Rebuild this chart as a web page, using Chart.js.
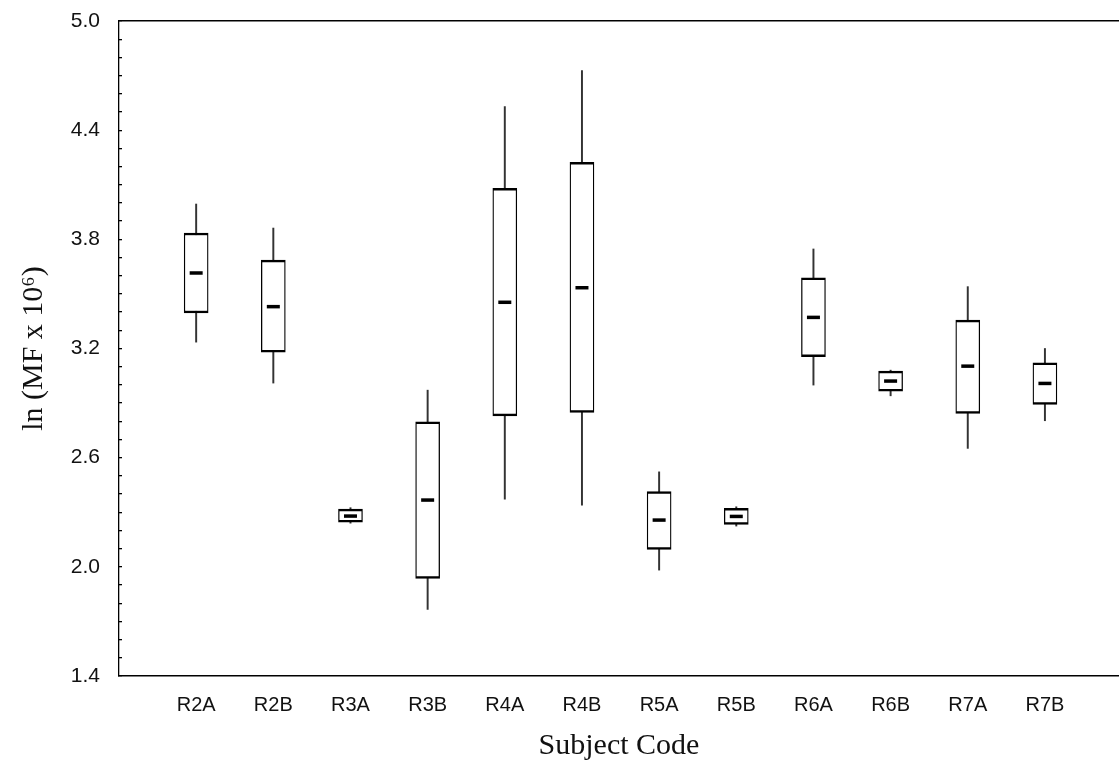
<!DOCTYPE html>
<html>
<head>
<meta charset="utf-8">
<script src="https://cdn.jsdelivr.net/npm/chart.js@4/dist/chart.umd.min.js"></script>
<style>
  html, body { margin: 0; padding: 0; background: #fff; }
  #wrap { width: 1119px; height: 768px; }
</style>
</head>
<body>
<div id="wrap"><canvas id="c" width="1119" height="768"></canvas></div>
<script>
// ---- data ----
const categories   = ['R2A','R2B','R3A','R3B','R4A','R4B','R5A','R5B','R6A','R6B','R7A','R7B'];
const whiskerLow   = [3.235, 3.010, 2.240, 1.766, 2.372, 2.339, 1.982, 2.224, 2.999, 2.940, 2.651, 2.803];
const quartile1    = [3.395, 3.180, 2.246, 1.936, 2.830, 2.849, 2.096, 2.233, 3.155, 2.966, 2.843, 2.893];
const medians      = [3.615, 3.430, 2.279, 2.367, 3.454, 3.534, 2.257, 2.277, 3.371, 3.021, 3.103, 3.008];
const quartile3    = [3.835, 3.686, 2.317, 2.797, 4.080, 4.223, 2.413, 2.321, 3.589, 3.076, 3.356, 3.121];
const whiskerHigh  = [3.994, 3.862, 2.325, 2.971, 4.529, 4.727, 2.522, 2.330, 3.747, 3.081, 3.540, 3.200];
const yMajorTicks  = [1.4, 2.0, 2.6, 3.2, 3.8, 4.4, 5.0];
const yMin = 1.4, yMax = 5.0, yMinorStep = 0.1;
const xMin = 0, xMax = 12.96;
const yTitle = 'ln (MF x 10\u2076)';
const xTitle = 'Subject Code';

// ---- build datasets ----
const whiskerData = categories.map((c, i) => ({ x: i + 1, y: [whiskerLow[i], whiskerHigh[i]] }));
const boxData     = categories.map((c, i) => ({ x: i + 1, y: [quartile1[i], quartile3[i]] }));
const medianData  = categories.map((c, i) => ({ x: i + 1, y: medians[i] }));

const xTickFont = { family: "'Liberation Sans', Arial, sans-serif", size: 20 };
const yTickFont = { family: "'Liberation Sans', Arial, sans-serif", size: 21 };
const titleFont = { family: "'Liberation Serif', 'Times New Roman', serif", size: 30 };

const noPad = (s) => { s.paddingTop = 0; s.paddingBottom = 0; s.paddingLeft = 0; s.paddingRight = 0; };

new Chart(document.getElementById('c'), {
  type: 'bar',
  data: {
    datasets: [
      {
        type: 'line', label: 'median', data: medianData, order: 0,
        showLine: false, pointStyle: 'line', pointRadius: 6.5, pointHoverRadius: 6.5,
        pointBorderWidth: 3.5, pointBorderColor: '#000', pointBackgroundColor: '#000'
      },
      {
        label: 'box', data: boxData, order: 1, grouped: false,
        barThickness: 24, backgroundColor: '#fff', borderColor: '#000',
        borderWidth: { top: 2.5, bottom: 2.5, left: 1.3, right: 1.3 }, borderSkipped: false
      },
      {
        label: 'whisker', data: whiskerData, order: 2, grouped: false,
        barThickness: 1.3, backgroundColor: '#333', borderWidth: 0, borderSkipped: false
      }
    ]
  },
  options: {
    responsive: false,
    animation: false,
    events: [],
    layout: { autoPadding: false, padding: { top: 21, left: 0, right: 0, bottom: 0 } },
    plugins: { legend: { display: false }, tooltip: { enabled: false } },
    scales: {
      x: {
        type: 'linear', position: 'bottom', min: xMin, max: xMax, offset: false,
        afterBuildTicks: (s) => { s.ticks = categories.map((c, i) => ({ value: i + 1 })); },
        afterFit: (s) => { s.height = 768 - 676; noPad(s); },
        grid: { display: false, drawTicks: false },
        border: { display: true, color: '#000', width: 1.6 },
        ticks: {
          autoSkip: false, maxRotation: 0, padding: 17,
          color: '#111', font: xTickFont,
          callback: (v) => (Number.isInteger(v) && v >= 1 && v <= categories.length) ? categories[v - 1] : ''
        },
        title: { display: true, text: xTitle, color: '#111', font: titleFont, padding: { top: 0, bottom: 4 } }
      },
      x2: {
        type: 'linear', position: 'top', min: xMin, max: xMax, offset: false,
        afterFit: (s) => { s.height = 0; noPad(s); },
        grid: { display: false, drawTicks: false },
        border: { display: true, color: '#000', width: 1.6 },
        ticks: { display: false }
      },
      y: {
        type: 'linear', position: 'left', min: yMin, max: yMax,
        afterFit: (s) => { s.width = 119; noPad(s); },
        grid: { drawOnChartArea: false, drawTicks: true, tickLength: -3, color: '#000', lineWidth: 1.3 },
        border: { display: true, color: '#000', width: 1.3, dash: [7, 2] },
        ticks: {
          stepSize: yMinorStep, autoSkip: false, padding: 22,
          color: '#111', font: yTickFont,
          callback: (v) => {
            const m = yMajorTicks.find(t => Math.abs(t - v) < 1e-6);
            return m === undefined ? '' : m.toFixed(1);
          }
        },
        title: { display: true, text: yTitle, color: '#111', font: titleFont, padding: { top: 16, bottom: 0 } }
      }
    }
  }
});
</script>
</body>
</html>
